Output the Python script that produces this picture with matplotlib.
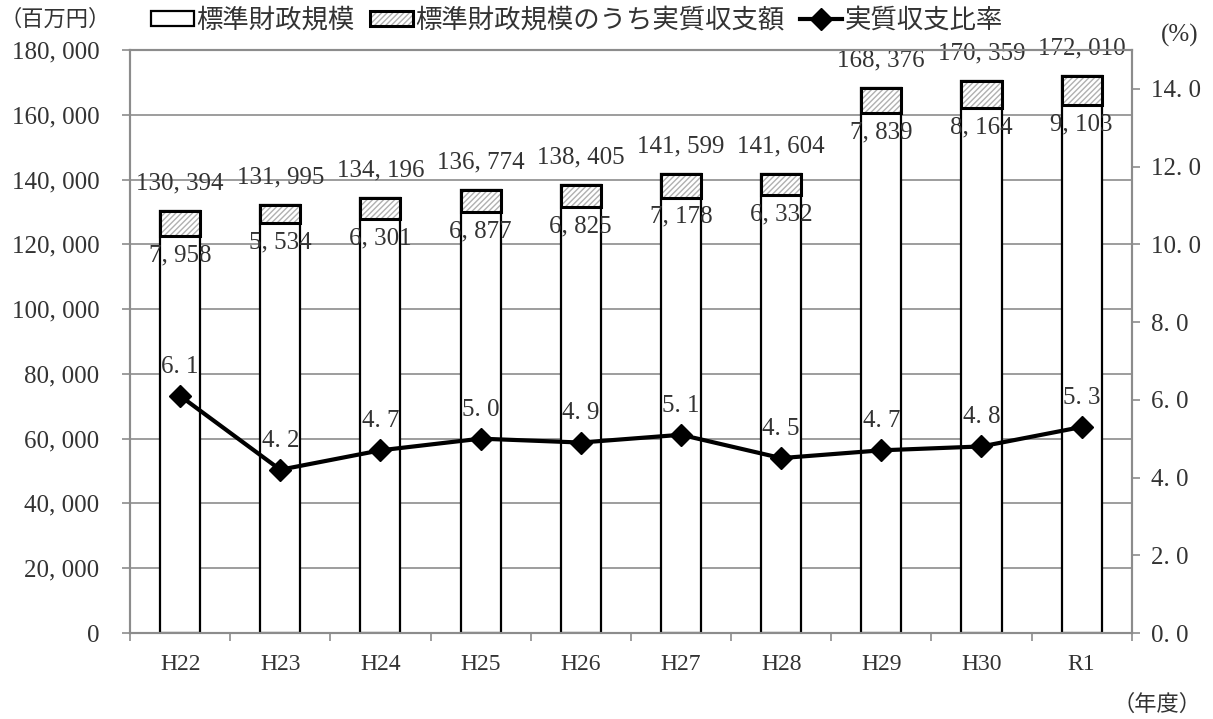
import numpy as np
import matplotlib
matplotlib.use("Agg")
import matplotlib.pyplot as plt
from matplotlib.patches import Patch
from matplotlib.lines import Line2D
from matplotlib.legend_handler import HandlerTuple

plt.rcParams['font.family'] = ['Liberation Serif', 'Noto Sans CJK JP']

years = ['H22', 'H23', 'H24', 'H25', 'H26', 'H27', 'H28', 'H29', 'H30', 'R1']
scale = [130394, 131995, 134196, 136774, 138405, 141599, 141604, 168376, 170359, 172010]
balance = [7958, 5534, 6301, 6877, 6825, 7178, 6332, 7839, 8164, 9103]
ratio = [6.1, 4.2, 4.7, 5.0, 4.9, 5.1, 4.5, 4.7, 4.8, 5.3]

txt = '#333333'
gray = '#8c8c8c'
hatch_gray = '#b0b0b0'
nfs = 18  # number labels

def fmt_int(v):
    return f"{v:,}".replace(",", ", ")

def fmt_pct(v):
    return f"{v:.1f}".replace(".", ". ")

fig = plt.figure(figsize=(12.13, 7.19), dpi=100)
ax = fig.add_axes([0.1072, 0.1196, 0.8258, 0.8109])
x = np.arange(len(years))
w = 0.4

scale = np.array(scale)
balance = np.array(balance)

# white bars for the total scale
ax.bar(x, scale, w, color='white', edgecolor='black', linewidth=1.6, zorder=2)
# hatched top part: hatch in grey first, then a black outline on top
ax.bar(x, balance, w, bottom=scale - balance, color='white', edgecolor=hatch_gray,
       hatch='//////', linewidth=0, zorder=3)
ax.bar(x, balance, w, bottom=scale - balance, fill=False, edgecolor='black',
       linewidth=2.2, zorder=4)

for xi, s, b in zip(x, scale, balance):
    ax.annotate(fmt_int(s), (xi, s), xytext=(0, 12), textcoords='offset points',
                ha='center', va='bottom', fontsize=nfs, color=txt, zorder=5)
    ax.annotate(fmt_int(b), (xi, s - b), xytext=(0, -6), textcoords='offset points',
                ha='center', va='top', fontsize=nfs, color=txt, zorder=5)

ax.set_ylim(0, 180000)
ax.set_xlim(-0.5, len(years) - 0.5)
ax.set_yticks(np.arange(0, 180001, 20000))
ax.set_yticklabels([fmt_int(v) for v in range(0, 180001, 20000)], fontsize=nfs, color=txt)
ax.set_xticks(x)
ax.set_xticklabels(years, fontsize=17, color=txt)
ax.set_xticks(np.arange(-0.5, len(years), 1), minor=True)
ax.tick_params(axis='x', which='major', length=0, pad=15)
ax.tick_params(axis='x', which='minor', length=6, width=1.2, color=gray, direction='out')
ax.tick_params(axis='y', length=6, width=1.2, color=gray, pad=16)
ax.grid(axis='y', color=gray, linewidth=1.2, zorder=0)
ax.set_axisbelow(True)
for sp in ax.spines.values():
    sp.set_color(gray)
    sp.set_linewidth(1.5)

ax2 = ax.twinx()
ax2.plot(x, ratio, color='black', linewidth=3, marker='D', markersize=11, zorder=6)
for xi, r in zip(x, ratio):
    ax2.annotate(fmt_pct(r), (xi, r), xytext=(0, 13), textcoords='offset points',
                 ha='center', va='bottom', fontsize=nfs, color=txt)
ax2.set_ylim(0, 15)
ax2.set_yticks(np.arange(0, 14.1, 2))
ax2.set_yticklabels([fmt_pct(v) for v in np.arange(0, 14.1, 2)], fontsize=nfs, color=txt)
ax2.tick_params(axis='y', length=6, width=1.2, color=gray, pad=8)
for sp in ax2.spines.values():
    sp.set_color(gray)
    sp.set_linewidth(1.5)

h1 = Patch(facecolor='white', edgecolor='black', linewidth=1.6)
h2 = (Patch(facecolor='white', edgecolor=hatch_gray, hatch='//////', linewidth=0),
      Patch(fill=False, edgecolor='black', linewidth=2.2))
h3 = Line2D([], [], color='black', linewidth=3, marker='D', markersize=11)
fig.legend([h1, h2, h3], ['標準財政規模', '標準財政規模のうち実質収支額', '実質収支比率'],
           handler_map={tuple: HandlerTuple(ndivide=1, pad=0)},
           loc='center', bbox_to_anchor=(0.476, 0.972), ncol=3, frameon=False,
           fontsize=19, handlelength=1.6, handleheight=0.5, handletextpad=0.1,
           columnspacing=0.6, labelcolor=txt)

fig.text(55 / 1213, 1 - 20 / 719, '（百万円）', ha='center', va='center', fontsize=16, color=txt)
fig.text(1180 / 1213, 1 - 35 / 719, '(%)', ha='center', va='center', fontsize=18, color=txt)
fig.text(1157 / 1213, 1 - 705 / 719, '（年度）', ha='center', va='center', fontsize=16, color=txt)

fig.savefig('out.png', dpi=100)
